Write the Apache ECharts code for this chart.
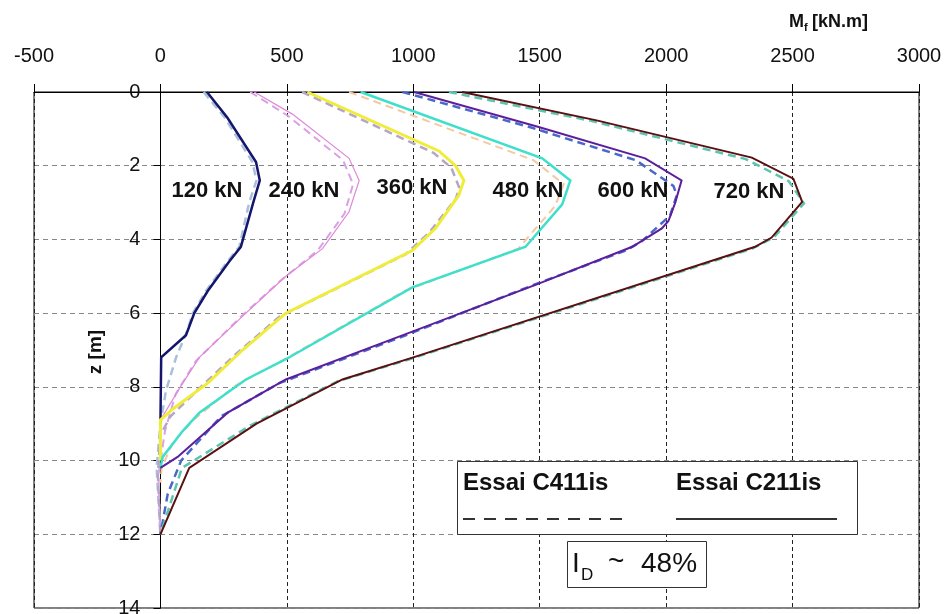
<!DOCTYPE html>
<html><head><meta charset="utf-8">
<script src="https://cdn.jsdelivr.net/npm/echarts/dist/echarts.min.js"></script>
<style>html,body{margin:0;padding:0;background:#fff}#c{width:948px;height:614px}</style>
</head><body><div id="c"></div>
<script>
// ---- Data: bending moment Mf [kN.m] versus depth z [m] ----
// Essai C211is (solid lines)
const z_120_C211 = [0, 0.7, 1.9, 2.4, 3.0, 4.2, 4.6, 5.4, 6.0, 6.6, 7.2, 9.0];
const m_120_C211 = [184, 265, 378, 393, 367, 318, 272, 187, 134, 101, 3, 0];
const z_240_C211 = [0, 0.6, 1.8, 2.4, 3.25, 4.25, 5.0, 6.0, 7.2, 7.9, 8.9];
const m_240_C211 = [371, 522, 746, 786, 746, 641, 496, 338, 154, 88, 0];
const z_360_C211 = [0, 1.6, 2.0, 2.4, 2.8, 3.7, 4.3, 6.0, 7.0, 7.9, 8.6, 8.9, 10.0];
const m_360_C211 = [581, 1101, 1167, 1200, 1180, 1088, 996, 496, 325, 187, 49, 0, 0];
const z_480_C211 = [0, 1.8, 2.4, 3.05, 4.2, 5.3, 7.25, 7.8, 8.7, 9.2, 9.9, 10.2];
const m_480_C211 = [792, 1510, 1621, 1589, 1444, 996, 496, 338, 154, 88, 9, 0];
const z_600_C211 = [0, 0.95, 1.8, 2.4, 3.0, 3.5, 3.7, 4.2, 5.2, 6.5, 7.8, 8.7, 9.9, 10.2];
const m_600_C211 = [1003, 1496, 1917, 2061, 2036, 2009, 1983, 1866, 1496, 996, 496, 266, 68, 0];
const z_720_C211 = [0, 0.77, 1.78, 2.35, 2.98, 3.95, 4.2, 7.2, 7.8, 9.0, 10.2, 12];
const m_720_C211 = [1193, 1725, 2339, 2503, 2538, 2417, 2352, 1000, 720, 380, 114, 0];
// Essai C411is (dashed lines)
const z_120_C411 = [0, 0.7, 1.9, 2.4, 3.0, 4.2, 4.6, 5.4, 6.0, 6.5, 7.2, 8.1, 9.0, 10.2, 12];
const m_120_C411 = [171, 255, 364, 380, 351, 312, 265, 180, 128, 105, 62, 22, 0, -15, 0];
const z_240_C411 = [0, 0.65, 1.85, 2.5, 3.3, 4.3, 5.1, 6.1, 7.3, 8.2, 9.2, 10.4, 12];
const m_240_C411 = [355, 505, 722, 762, 728, 622, 478, 318, 140, 60, 18, -8, 0];
const z_360_C411 = [0, 1.65, 2.05, 2.6, 2.9, 3.8, 4.4, 6.1, 7.1, 8.0, 8.8, 9.3, 10.4, 12];
const m_360_C411 = [560, 1080, 1150, 1182, 1168, 1065, 970, 470, 300, 160, 40, 0, -10, 0];
const z_480_C411 = [0, 1.85, 2.5, 3.1, 4.25, 5.4, 7.35, 7.95, 8.9, 9.5, 10.2, 10.6];
const m_480_C411 = [746, 1475, 1595, 1560, 1415, 965, 465, 300, 130, 50, 5, 0];
const z_600_C411 = [0, 0.95, 1.85, 2.55, 2.8, 3.35, 4.05, 4.3, 5.25, 6.6, 7.9, 8.8, 10.0, 10.9, 12];
const m_600_C411 = [957, 1460, 1880, 2029, 2042, 2016, 1904, 1840, 1470, 970, 470, 240, 82, 29, 0];
const z_720_C411 = [0, 0.77, 1.82, 2.42, 3.02, 3.95, 4.25, 7.25, 7.85, 9.05, 10.2, 12];
const m_720_C411 = [1141, 1695, 2315, 2485, 2545, 2425, 2340, 985, 700, 355, 85, 0];

const loadLabels = ['120 kN', '240 kN', '360 kN', '480 kN', '600 kN', '720 kN'];
const xTicks = [-500, 0, 500, 1000, 1500, 2000, 2500, 3000];
const yTicks = [0, 2, 4, 6, 8, 10, 12, 14];

const FONT = '"Liberation Sans", Arial, sans-serif';

function pairs(m, z) { return m.map((v, i) => [v, z[i]]); }
function line(name, m, z, color, width, dashed) {
  return {
    type: 'line', name: name, data: pairs(m, z), symbol: 'none', showSymbol: false,
    silent: true, animation: false, z: dashed ? 3 : 4,
    lineStyle: { color: color, width: width, type: dashed ? [8, 5] : 'solid', cap: 'butt', join: 'miter' }
  };
}

const series = [
  line('120 C411', m_120_C411, z_120_C411, '#a9c0da', 2.5, true),
  line('240 C411', m_240_C411, z_240_C411, '#d9a2e4', 2, true),
  line('360 C411', m_360_C411, z_360_C411, '#b5a6c6', 2.5, true),
  line('480 C411', m_480_C411, z_480_C411, '#f4c9a0', 2, true),
  line('600 C411', m_600_C411, z_600_C411, '#4a68c8', 2.5, true),
  line('720 C411', m_720_C411, z_720_C411, '#5cc4b0', 2.5, true),
  line('120 C211', m_120_C211, z_120_C211, '#15156e', 2.5, false),
  line('240 C211', m_240_C211, z_240_C211, '#e088d8', 1.2, false),
  line('360 C211', m_360_C211, z_360_C211, '#f0ec3a', 3, false),
  line('480 C211', m_480_C211, z_480_C211, '#3ee0cc', 2.5, false),
  line('600 C211', m_600_C211, z_600_C211, '#5b1f9e', 2, false),
  line('720 C211', m_720_C211, z_720_C211, '#5a1010', 2, false)
];

const labelPix = [[207, 191], [304, 191], [412, 188], [528, 191], [633, 191], [749, 192]];
const graphics = loadLabels.map((t, i) => ({
  type: 'text', x: labelPix[i][0], y: labelPix[i][1], z: 100,
  style: { text: t, font: 'bold 22px ' + FONT, fill: '#111', align: 'center', verticalAlign: 'middle' }
}));

graphics.push(
  { type: 'text', x: 96, y: 352, rotation: Math.PI / 2, z: 100,
    style: { text: 'z [m]', font: 'bold 19px ' + FONT, fill: '#111', align: 'center', verticalAlign: 'middle' } },
  { type: 'text', x: 789, y: 22, z: 100,
    style: { text: 'M', font: 'bold 18px ' + FONT, fill: '#111', align: 'left', verticalAlign: 'middle' } },
  { type: 'text', x: 804, y: 28, z: 100,
    style: { text: 'f', font: 'bold 11px ' + FONT, fill: '#111', align: 'left', verticalAlign: 'middle' } },
  { type: 'text', x: 812, y: 22, z: 100,
    style: { text: '[kN.m]', font: 'bold 18px ' + FONT, fill: '#111', align: 'left', verticalAlign: 'middle' } },
  // legend box
  { type: 'rect', z: 100, shape: { x: 457.5, y: 461.5, width: 400, height: 73 },
    style: { fill: '#fff', stroke: '#333', lineWidth: 1 } },
  { type: 'text', x: 463, y: 483, z: 101,
    style: { text: 'Essai C411is', font: 'bold 24px ' + FONT, fill: '#111', align: 'left', verticalAlign: 'middle' } },
  { type: 'text', x: 676, y: 483, z: 101,
    style: { text: 'Essai C211is', font: 'bold 24px ' + FONT, fill: '#111', align: 'left', verticalAlign: 'middle' } },
  { type: 'line', z: 101, shape: { x1: 463, y1: 519, x2: 629, y2: 519 },
    style: { stroke: '#333', lineWidth: 2, lineDash: [12, 9] } },
  { type: 'line', z: 101, shape: { x1: 676, y1: 519, x2: 837, y2: 519 },
    style: { stroke: '#333', lineWidth: 2 } },
  // I_D box
  { type: 'rect', z: 100, shape: { x: 567.5, y: 541.5, width: 139, height: 46 },
    style: { fill: '#fff', stroke: '#333', lineWidth: 1 } },
  { type: 'text', x: 572, y: 564, z: 101,
    style: { text: 'I', font: '28px ' + FONT, fill: '#111', align: 'left', verticalAlign: 'middle' } },
  { type: 'text', x: 581, y: 575, z: 101,
    style: { text: 'D', font: '17px ' + FONT, fill: '#111', align: 'left', verticalAlign: 'middle' } },
  { type: 'text', x: 608, y: 562, z: 101,
    style: { text: '~', font: '28px ' + FONT, fill: '#111', align: 'left', verticalAlign: 'middle' } },
  { type: 'text', x: 641, y: 564, z: 101,
    style: { text: '48%', font: '28px ' + FONT, fill: '#111', align: 'left', verticalAlign: 'middle' } }
);

const chart = echarts.init(document.getElementById('c'), null, { renderer: 'canvas' });
// y axis drawn on the x = 0 line: offset equals the pixel distance from the grid's left edge to x = 0
const gridLeft = 34, gridRight = 29;
const plotW = 948 - gridLeft - gridRight;
const yAxisOffset = -plotW * (0 - xTicks[0]) / (xTicks[xTicks.length - 1] - xTicks[0]);
chart.setOption({
  animation: false,
  backgroundColor: '#fff',
  textStyle: { fontFamily: FONT },
  grid: { left: gridLeft, right: gridRight, top: 92, bottom: 6, show: true, borderColor: '#000', borderWidth: 1,
          containLabel: false, outerBoundsMode: 'none' },
  xAxis: {
    type: 'value', position: 'top', min: xTicks[0], max: xTicks[xTicks.length - 1], interval: 500,
    axisLine: { show: true, onZero: false, lineStyle: { color: '#000', width: 1 } },
    axisTick: { show: true, length: 8, lineStyle: { color: '#000' } },
    axisLabel: { color: '#111', fontSize: 20, margin: 26, fontFamily: FONT, showMinLabel: true, showMaxLabel: true,
                 formatter: v => String(v) },
    splitLine: { show: true, lineStyle: { color: '#222', width: 1, type: [4, 3] } }
  },
  yAxis: {
    type: 'value', inverse: true, min: yTicks[0], max: yTicks[yTicks.length - 1], interval: 2,
    position: 'left', offset: yAxisOffset,
    axisLine: { show: true, onZero: false, lineStyle: { color: '#000', width: 1 } },
    axisTick: { show: true, length: 7, lineStyle: { color: '#000' } },
    axisLabel: { color: '#111', fontSize: 20, margin: 20, fontFamily: FONT, showMinLabel: true, showMaxLabel: true,
                 formatter: v => String(v) },
    splitLine: { show: true, lineStyle: { color: '#888', width: 1, type: [5, 4] } }
  },
  series: series,
  graphic: graphics
});
</script></body></html>
